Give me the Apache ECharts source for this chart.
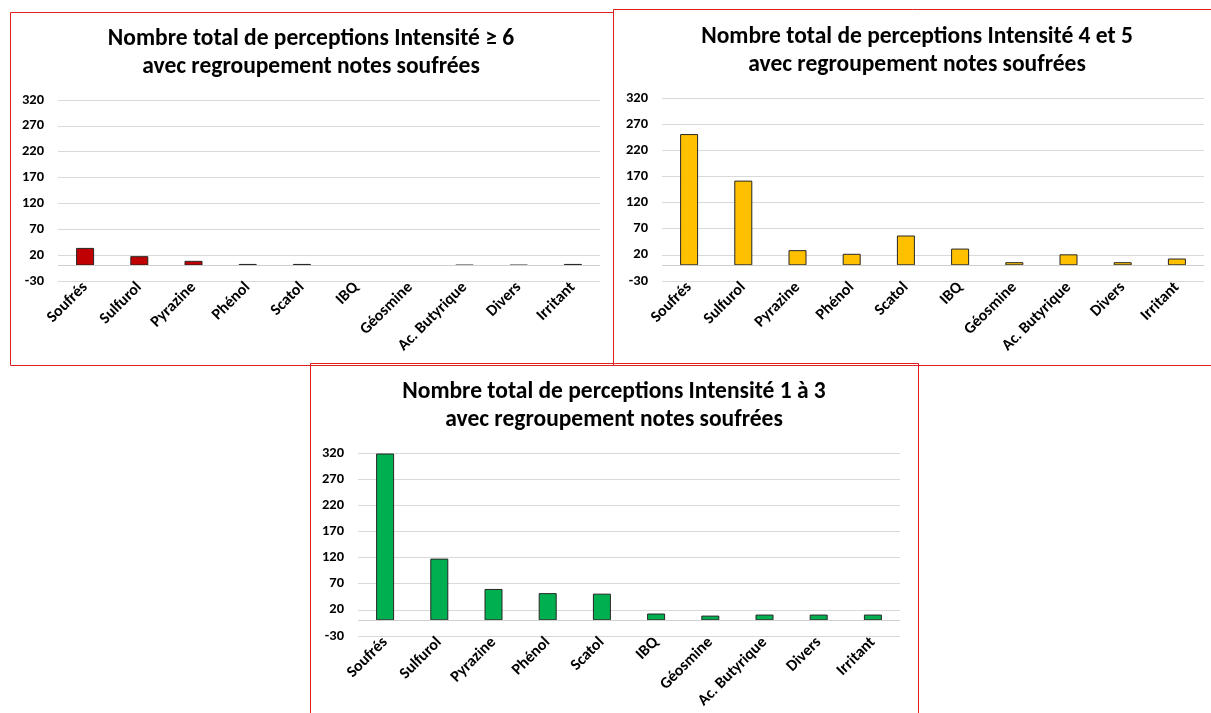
<!DOCTYPE html>
<html>
<head>
<meta charset="utf-8">
<script src="https://cdn.jsdelivr.net/npm/echarts@6/dist/echarts.min.js"></script>
<style>
html,body{margin:0;padding:0;background:#fff;}
#c{width:1211px;height:713px;}
</style>
</head>
<body>
<div id="c"></div>
<script>
const categories = ['Soufrés','Sulfurol','Pyrazine','Phénol','Scatol','IBQ','Géosmine','Ac. Butyrique','Divers','Irritant'];
const intensite6 = [34, 18, 9, 3, 3, 0, 0, 1, 1, 3];
const intensite45 = [251, 162, 29, 22, 57, 32, 6, 21, 6, 13];
const intensite13 = [319, 118, 60, 52, 51, 13, 9, 11, 11, 11];
const titles = [
  'Nombre total de perceptions Intensité ≥ 6\navec regroupement notes soufrées',
  'Nombre total de perceptions Intensité 4 et 5\navec regroupement notes soufrées',
  'Nombre total de perceptions Intensité 1 à 3\navec regroupement notes soufrées'
];
const yMin = -30, yMax = 320, yStep = 50;
const colors = ['#C00000', '#FFC000', '#00B050'];

const FONT = 'Carlito, Lato, "Liberation Sans", sans-serif';
const grids = [
  {left: 58, top: 100, width: 542, height: 181},
  {left: 662, top: 98, width: 542, height: 183},
  {left: 358, top: 453, width: 542, height: 183}
];
const panels = [
  {x: 10, y: 12, w: 603, h: 353, tx: 311, ty: 25},
  {x: 613, y: 9, w: 600, h: 356, tx: 917, ty: 23},
  {x: 310, y: 363, w: 608, h: 360, tx: 614, ty: 378}
];
const seriesData = [intensite6, intensite45, intensite13];

const chart = echarts.init(document.getElementById('c'), null, {renderer: 'canvas'});
const option = {
  backgroundColor: '#fff',
  animation: false,
  grid: grids,
  xAxis: grids.map((g, i) => ({
    type: 'category', gridIndex: i, data: categories,
    axisLine: {show: false, onZero: false}, axisTick: {show: false},
    axisLabel: {rotate: 45, margin: 4, interval: 0, color: '#000', fontWeight: 'bold', fontSize: 16, fontFamily: FONT}
  })),
  yAxis: grids.map((g, i) => ({
    type: 'value', gridIndex: i, min: yMin, max: yMax, interval: yStep,
    axisLine: {show: false}, axisTick: {show: false},
    splitLine: {lineStyle: {color: '#d9d9d9', width: 1}},
    axisLabel: {margin: 14, color: '#000', fontWeight: 'bold', fontSize: 14.5, fontFamily: FONT}
  })),
  series: seriesData.map((arr, i) => ({
    type: 'bar', xAxisIndex: i, yAxisIndex: i, barWidth: 18,
    data: arr.map(v => v === 0 ? {value: 0, itemStyle: {borderWidth: 0}} : v),
    itemStyle: {color: colors[i], borderColor: '#262626', borderWidth: 1},
    markLine: {
      silent: true, symbol: 'none', label: {show: false},
      lineStyle: {color: '#cfcfcf', type: 'solid', width: 1},
      data: [{yAxis: 0}]
    }
  })),
  graphic: panels.map((p, i) => ({
    type: 'group', silent: true,
    children: [
      {type: 'rect', shape: {x: p.x + 0.5, y: p.y + 0.5, width: p.w, height: p.h},
       style: {fill: 'none', stroke: '#E02020', lineWidth: 1}},
      {type: 'text', x: p.tx, y: p.ty,
       style: {text: titles[i], textAlign: 'center', textVerticalAlign: 'top', fill: '#000',
               font: 'bold 23.5px ' + FONT, lineHeight: 28}}
    ]
  }))
};
chart.setOption(option);
</script>
</body>
</html>
